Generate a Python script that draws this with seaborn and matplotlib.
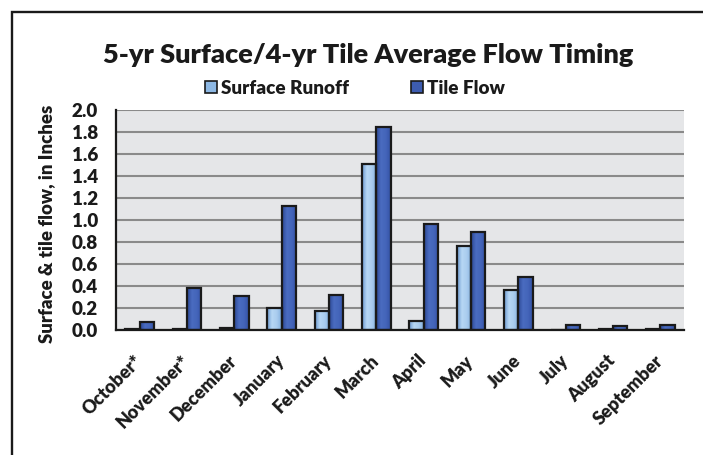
import matplotlib
matplotlib.use("Agg")
import matplotlib.pyplot as plt
import seaborn as sns
import pandas as pd
import numpy as np
from matplotlib.patches import Rectangle, Patch
from matplotlib.colors import LinearSegmentedColormap, to_rgba

months = ["October*", "November*", "December", "January", "February", "March",
          "April", "May", "June", "July", "August", "September"]
surface_runoff = [0.01, 0.01, 0.02, 0.20, 0.17, 1.51, 0.08, 0.76, 0.36, 0.0, 0.01, 0.005]
tile_flow = [0.07, 0.38, 0.31, 1.13, 0.32, 1.85, 0.96, 0.89, 0.48, 0.045, 0.035, 0.045]
series_names = ["Surface Runoff", "Tile Flow"]
y_ticks = [0.0, 0.2, 0.4, 0.6, 0.8, 1.0, 1.2, 1.4, 1.6, 1.8, 2.0]

title = "5-yr Surface/4-yr Tile Average Flow Timing"
ylabel = "Surface & tile flow, in Inches"

df = pd.DataFrame({
    "month": months * 2,
    "value": surface_runoff + tile_flow,
    "series": [series_names[0]] * len(months) + [series_names[1]] * len(months),
})

sns.set_style("white")
plt.rcParams["font.family"] = ["Lato", "DejaVu Sans"]
plt.rcParams["font.weight"] = "heavy"
TXT = "#1a1a1a"
WT = "heavy"
DPI = 100
W, H = 703, 455
PX2PT = 72 / DPI

colors = {"Surface Runoff": "#8DB8E4", "Tile Flow": "#3D5CB0"}
gradients = {
    "Surface Runoff": ["#6C99D0", "#B7D7F4", "#A9CCEE", "#82AEDD"],
    "Tile Flow": ["#2C4894", "#4A6CC0", "#4465BA", "#3452A4"],
}

fig = plt.figure(figsize=(W / DPI, H / DPI), dpi=DPI)
ax = fig.add_axes([116 / W, 1 - 330 / H, (684 - 116) / W, 220 / H])
ax.set_facecolor("#E5E6E8")

sns.barplot(data=df, x="month", y="value", hue="series", order=months,
            hue_order=series_names, palette=colors, width=0.6, dodge=True,
            edgecolor="#1a1a1a", linewidth=1.6, legend=False, ax=ax, zorder=3)

# soft horizontal shading inside each seaborn bar, like the original chart
cmaps = {n: LinearSegmentedColormap.from_list(n, gradients[n]) for n in series_names}
ramp = np.linspace(0, 1, 64).reshape(1, -1)
for p in list(ax.patches):
    fc = to_rgba(p.get_facecolor())
    name = min(series_names, key=lambda n: sum(abs(a - b) for a, b in zip(to_rgba(colors[n]), fc)))
    x0, y0, w, h = p.get_x(), p.get_y(), p.get_width(), p.get_height()
    if h <= 0:
        continue
    im = ax.imshow(ramp, cmap=cmaps[name], extent=[x0, x0 + w, y0, y0 + h],
                   aspect="auto", interpolation="bilinear", zorder=3.2)
    im.set_clip_path(p)
    p.set_facecolor("none")
    p.set_zorder(3.5)

ax.set_ylim(0, 2.0)
ax.set_xlim(-0.5, len(months) - 0.5)
ax.set_aspect("auto")
ax.set_yticks(y_ticks)
ylabels = ax.set_yticklabels([f"{v:.1f}" for v in y_ticks], fontsize=12, fontweight=WT, color=TXT)
ax.yaxis.grid(True, color="#8a8a8a", linewidth=1.5, zorder=0)
ax.set_axisbelow(True)

ax.set_xticks(range(len(months)))
xlabels = ax.set_xticklabels(months, rotation=45, ha="right", va="center",
                             rotation_mode="anchor", fontsize=12, fontweight=WT, color=TXT)
ax.tick_params(axis="x", which="major", length=0, pad=28 * PX2PT)
ax.set_xticks([i - 0.5 for i in range(len(months) + 1)], minor=True)
ax.tick_params(axis="x", which="minor", length=6 * PX2PT, width=1.5, color="#1a1a1a", direction="out")
ax.tick_params(axis="y", length=6 * PX2PT, width=1.5, color="#1a1a1a", direction="out", pad=12 * PX2PT)

for s in ["top", "right"]:
    ax.spines[s].set_visible(False)
for s in ["left", "bottom"]:
    ax.spines[s].set_color("#1a1a1a")
    ax.spines[s].set_linewidth(1.6)
    ax.spines[s].set_zorder(5)
ax.set_xlabel("")
ax.set_ylabel("")

ylab = fig.text(47 / W, 1 - 223.5 / H, ylabel, rotation=90, ha="center", va="center",
                fontsize=12, fontweight=WT, color=TXT)
ttl = fig.text(103 / W, 1 - 63 / H, title, ha="left", va="baseline",
               fontsize=20, fontweight=WT, color=TXT)
probe_leg = fig.text(0, 0, series_names[0], fontsize=12, fontweight=WT)
probe_x = fig.text(0, 0, "December", fontsize=12, fontweight=WT)


def fit(objs, probe, target, dim="w"):
    for _ in range(3):
        fig.canvas.draw()
        bb = probe.get_window_extent(fig.canvas.get_renderer())
        size = bb.width if dim == "w" else bb.height
        fs = probe.get_fontsize() * target / size
        for o in objs:
            o.set_fontsize(fs)
    return probe.get_fontsize()


fit([ttl], ttl, 531)
fit([ylab], ylab, 239, "h")
fs_y = fit(list(ylabels), ylabels[9], 26)
fs_x = fit(list(xlabels) + [probe_x], probe_x, 85)
fs_leg = fit([probe_leg], probe_leg, 127)
probe_leg.remove()
probe_x.remove()

fpx = fs_leg / PX2PT
handles = [Patch(facecolor=colors[n], edgecolor="#1a1a1a", linewidth=1.2) for n in series_names]
leg = fig.legend(handles, series_names, loc="center left", bbox_to_anchor=(205 / W, 1 - 88 / H),
                 ncol=2, frameon=False, borderpad=0, borderaxespad=0,
                 handlelength=12 / fpx, handleheight=12 / fpx,
                 handletextpad=4 / fpx, columnspacing=62 / fpx,
                 prop={"weight": WT, "size": fs_leg})
for t in leg.get_texts():
    t.set_color(TXT)

fig.patches.append(Rectangle((12 / W, -0.1), 1.2, 1.1 - 12 / H,
                             transform=fig.transFigure, fill=False,
                             edgecolor="#1a1a1a", linewidth=1.7))

fig.savefig("out.png", dpi=DPI)
